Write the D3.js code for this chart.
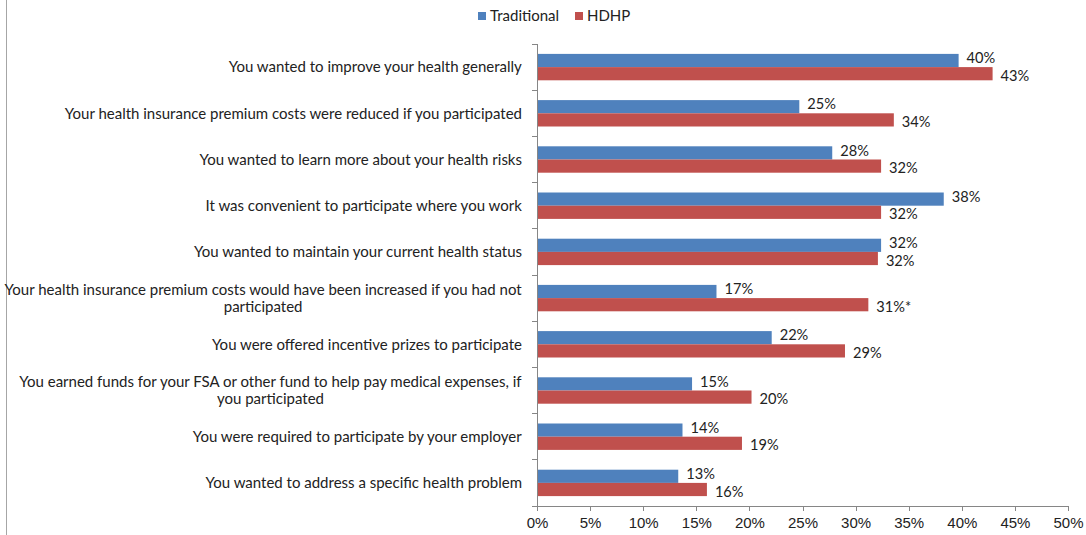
<!DOCTYPE html>
<html lang="en">
<head>
<meta charset="UTF-8">
<title>Reasons for participating</title>
<style>
    body { margin: 0; background: #fff; }
    svg { font-family: "Lato", "Open Sans", sans-serif; }
    .axis path, .axis line { fill: none; stroke: #868686; shape-rendering: crispEdges; }
    .axis text { fill: #222; font-size: 15px; }
    .cat { fill: #222; font-size: 15px; }
    .val { fill: #222; font-size: 14.6px; }
</style>
</head>
<body>
<script src="https://d3js.org/d3.v7.min.js"></script>
<script>

    // chart data
    var categories = [
        ["You wanted to improve your health generally"],
        ["Your health insurance premium costs were reduced if you participated"],
        ["You wanted to learn more about your health risks"],
        ["It was convenient to participate where you work"],
        ["You wanted to maintain your current health status"],
        ["Your health insurance premium costs would have been increased if you had not", "participated"],
        ["You were offered incentive prizes to participate"],
        ["You earned funds for your FSA or other fund to help pay medical expenses, if", "you participated"],
        ["You were required to participate by your employer"],
        ["You wanted to address a specific health problem"]
    ];
    var seriesNames = ["Traditional", "HDHP"];
    var traditional = [39.7, 24.7, 27.8, 38.3, 32.4, 16.9, 22.1, 14.6, 13.7, 13.3];
    var hdhp = [42.9, 33.6, 32.4, 32.4, 32.1, 31.2, 29.0, 20.2, 19.3, 16.0];
    var traditionalLabels = ["40%", "25%", "28%", "38%", "32%", "17%", "22%", "15%", "14%", "13%"];
    var hdhpLabels = ["43%", "34%", "32%", "32%", "32%", "31%*", "29%", "20%", "19%", "16%"];
    var xTicks = [0, 5, 10, 15, 20, 25, 30, 35, 40, 45, 50];

    var colors = ["#4f81bd", "#c0504d"];

    var width = 1086, height = 535;
    var margin = {top: 44, right: 18, bottom: 29, left: 537};

    var svg = d3.select("body").append("svg")
        .attr("width", width)
        .attr("height", height);

    // left border of the chart area
    svg.append("line")
        .attr("x1", 6.5).attr("x2", 6.5)
        .attr("y1", 0).attr("y2", height)
        .attr("stroke", "#a6a6a6")
        .attr("stroke-width", 1);

    var x = d3.scaleLinear()
        .domain([0, 50])
        .range([margin.left, width - margin.right]);

    var idx = d3.range(categories.length);
    var y = d3.scaleBand()
        .domain(idx)
        .range([margin.top, height - margin.bottom]);

    var barH = 13.2;

    // bars
    var rows = svg.selectAll(".row")
        .data(idx)
        .enter().append("g")
        .attr("class", "row")
        .attr("transform", function(d) { return "translate(0," + (y(d) + y.bandwidth() / 2) + ")"; });

    rows.append("rect")
        .attr("x", x(0))
        .attr("y", -barH)
        .attr("width", function(d) { return x(traditional[d]) - x(0); })
        .attr("height", barH)
        .attr("fill", colors[0]);

    rows.append("rect")
        .attr("x", x(0))
        .attr("y", 0)
        .attr("width", function(d) { return x(hdhp[d]) - x(0); })
        .attr("height", barH)
        .attr("fill", colors[1]);

    // value labels
    rows.append("text")
        .attr("class", "val")
        .attr("x", function(d) { return x(traditional[d]) + 8; })
        .attr("y", -barH / 2 - 2.5)
        .attr("dy", "0.35em")
        .text(function(d) { return traditionalLabels[d]; });

    rows.append("text")
        .attr("class", "val")
        .attr("x", function(d) { return x(hdhp[d]) + 8; })
        .attr("y", barH / 2 + 2)
        .attr("dy", "0.35em")
        .text(function(d) { return hdhpLabels[d]; });

    // category labels (centered lines, right aligned block)
    rows.each(function(d) {
        var lines = categories[d];
        var t = d3.select(this).append("text")
            .attr("class", "cat")
            .attr("text-anchor", "middle");
        var lh = 17;
        lines.forEach(function(s, i) {
            t.append("tspan")
                .attr("x", 0)
                .attr("y", (i - (lines.length - 1) / 2) * lh)
                .attr("dy", "0.35em")
                .text(s);
        });
        // widest line decides where the block sits, right edge just before the axis
        var w = t.node().getBBox().width;
        t.selectAll("tspan").attr("x", margin.left - 15 - w / 2);
    });

    // axes
    svg.append("g")
        .attr("class", "axis")
        .attr("transform", "translate(0," + (height - margin.bottom) + ")")
        .call(d3.axisBottom(x).tickValues(xTicks).tickFormat(function(d) { return d + "%"; }).tickSizeOuter(0).tickSize(5).tickPadding(6));

    var yAxis = svg.append("g")
        .attr("class", "axis")
        .attr("transform", "translate(" + margin.left + ",0)");
    yAxis.append("line")
        .attr("x1", 0).attr("x2", 0)
        .attr("y1", margin.top).attr("y2", height - margin.bottom);
    yAxis.selectAll(".tick")
        .data(idx.concat([categories.length]))
        .enter().append("line")
        .attr("x1", -5).attr("x2", 0)
        .attr("y1", function(d) { return d < categories.length ? y(d) : height - margin.bottom; })
        .attr("y2", function(d) { return d < categories.length ? y(d) : height - margin.bottom; });

    // legend
    var legend = svg.append("g").attr("transform", "translate(478,16)");
    var lx = [0, 97];
    seriesNames.forEach(function(s, i) {
        legend.append("rect")
            .attr("x", lx[i]).attr("y", -4)
            .attr("width", 8).attr("height", 8)
            .attr("fill", colors[i]);
        legend.append("text")
            .attr("x", lx[i] + 12).attr("y", 0)
            .attr("dy", "0.35em")
            .attr("font-size", 15)
            .attr("fill", "#222")
            .text(s);
    });

</script>
</body>
</html>
